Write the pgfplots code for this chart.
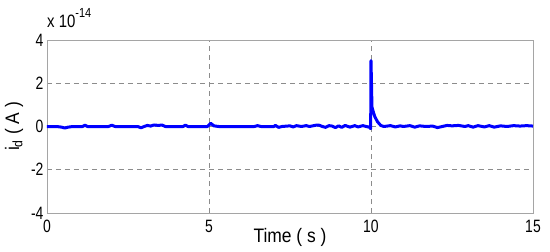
\documentclass[border=0pt]{standalone}
\usepackage{fontspec}
\setmainfont{Liberation Sans}
\usepackage{graphicx}
\usepackage{pgfplots}
\pgfplotsset{compat=1.18}
\definecolor{mblue}{RGB}{0,0,255}
\definecolor{boxgray}{RGB}{165,165,165}
\definecolor{gridgray}{RGB}{140,140,140}
\begin{document}
\begin{tikzpicture}
\begin{axis}[
    scale only axis,
    width=486bp, height=173bp,
    xmin=0, xmax=15, ymin=-4, ymax=4,
    xtick={0,5,10,15}, ytick={-4,-2,0,2,4},
    grid=major,
    grid style={gridgray, dash pattern=on 5bp off 4bp, line width=0.6bp},
    axis line style={boxgray, line width=0.8bp},
    major tick length=0pt,
    /pgf/number format/assume math mode=true,
    tick label style={font=\fontsize{14}{17}\selectfont},
    xticklabel={\scalebox{1}[1.28]{\pgfmathprintnumber{\tick}}},
    yticklabel={\scalebox{1}[1.28]{\pgfmathprintnumber{\tick}}},
    x tick label style={yshift=-4bp},
    xlabel={\scalebox{1}[1.12]{Time ( s )}},
    ylabel={\scalebox{1}[1.12]{i\textsubscript{d} ( A )}},
    label style={font=\fontsize{17.5}{20}\selectfont},
    xlabel style={at={(axis description cs:0.5,-0.139)}, anchor=center},
    ylabel style={at={(axis description cs:-0.068,0.5)}, anchor=center},
]
\addplot[mblue, line width=3bp, line join=round] coordinates {
(0,0) (0.3,0) (0.45,-0.03) (0.55,-0.07) (0.65,-0.03) (0.8,0)
(1.1,0) (1.17,0.06) (1.25,0) (1.9,0) (2.0,0.06) (2.1,0)
(2.8,0) (2.9,-0.06) (3.0,0) (3.1,0.05) (3.2,0.02) (3.3,0.07)
(3.45,0.05) (3.55,0.07) (3.65,0) (4.2,0) (4.27,0.06) (4.35,0)
(4.95,0) (5.05,0.15) (5.15,0.03) (5.3,0) (6.4,0) (6.5,0.04)
(6.6,0) (7.0,0) (7.05,0.05) (7.15,-0.04) (7.25,0) (7.5,0.03)
(7.6,-0.02) (7.7,0.04) (7.85,0) (8.0,0.04) (8.1,0) (8.3,0.06)
(8.4,0.06) (8.5,0) (8.6,-0.04) (8.7,0.04) (8.8,0.02) (8.9,-0.05)
(9.0,0.03) (9.1,-0.04) (9.2,0.05) (9.35,-0.03) (9.5,0.04) (9.6,-0.02)
(9.75,0.04) (9.85,0) (9.95,-0.03) (9.99,-0.1) (10.0,3.05) (10.03,0.9)
(10.07,0.68) (10.12,0.45) (10.2,0.22) (10.3,0.05) (10.4,0) (10.6,0.04)
(10.75,-0.02) (10.9,0.03) (11.0,0) (11.2,0.04) (11.35,-0.03) (11.5,0.03)
(11.7,0) (11.9,0.02) (12.05,-0.05) (12.2,0) (12.35,0.05) (12.5,0.03)
(12.7,0.05) (12.9,0) (13.0,0.04) (13.15,-0.03) (13.3,0.04) (13.5,-0.02)
(13.65,0.04) (13.8,-0.03) (14.0,0.03) (14.2,0) (14.4,0.04) (14.6,0.02)
(14.8,0.04) (15.0,0.02)
};
\coordinate (sw) at (rel axis cs:0,0);
\coordinate (ne) at (rel axis cs:1,1);
\end{axis}
\node[anchor=base west, inner sep=0pt, font=\fontsize{15}{18}\selectfont]
    at ([yshift=13bp]sw |- ne) {\scalebox{1}[1.2]{x 10\raisebox{0.55em}{\fontsize{11}{13}\selectfont -14}}};
\path ([shift={(-47bp,-39bp)}]sw) rectangle ([shift={(17bp,40bp)}]ne);
\end{tikzpicture}
\end{document}
